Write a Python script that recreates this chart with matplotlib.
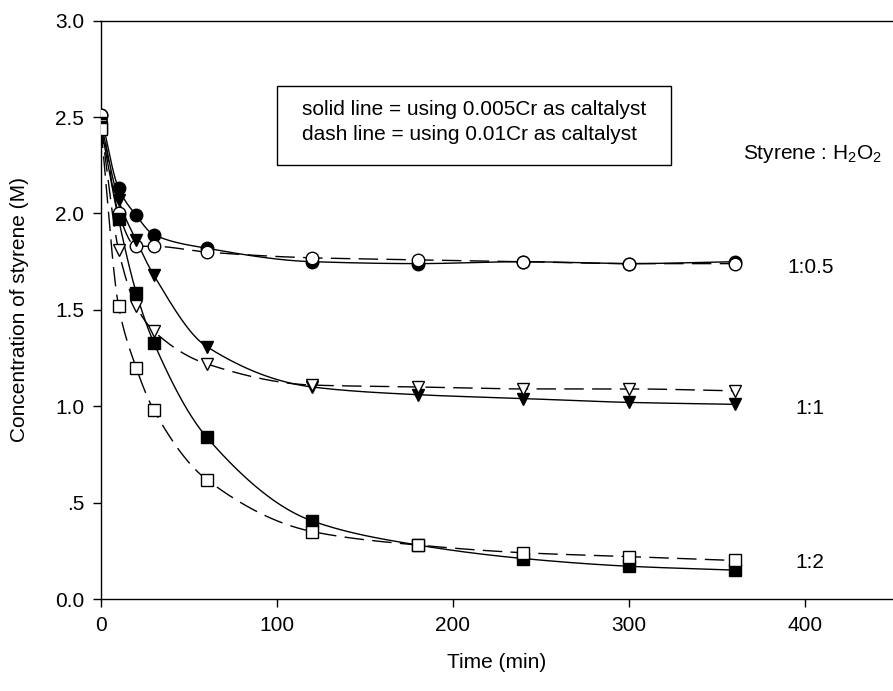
import numpy as np
import matplotlib
matplotlib.use("Agg")
import matplotlib.pyplot as plt
from matplotlib.patches import Rectangle

plt.rcParams['font.family'] = ['Liberation Sans', 'DejaVu Sans']
plt.rcParams['mathtext.fontset'] = 'custom'
plt.rcParams['mathtext.rm'] = 'Liberation Sans'

# sampling times (min)
time = [0, 10, 20, 30, 60, 120, 180, 240, 300, 360]

# styrene : H2O2 = 1:0.5
c_05_solid = [2.51, 2.13, 1.99, 1.89, 1.82, 1.75, 1.74, 1.75, 1.74, 1.75]
c_05_dash = [2.51, 2.00, 1.83, 1.83, 1.80, 1.77, 1.76, 1.75, 1.74, 1.74]
# styrene : H2O2 = 1:1
c_1_solid = [2.47, 2.07, 1.86, 1.68, 1.31, 1.10, 1.06, 1.04, 1.02, 1.01]
c_1_dash = [2.46, 1.81, 1.52, 1.39, 1.22, 1.11, 1.10, 1.09, 1.09, 1.08]
# styrene : H2O2 = 1:2
c_2_solid = [2.45, 1.97, 1.59, 1.33, 0.84, 0.405, 0.28, 0.21, 0.17, 0.15]
c_2_dash = [2.44, 1.52, 1.20, 0.98, 0.62, 0.35, 0.28, 0.24, 0.22, 0.20]

ratio_labels = ['1:0.5', '1:1', '1:2']
ratio_label_y = [1.72, 0.99, 0.19]


def smooth(x, y, n=400):
    # monotone cubic (pchip) curve through the points, only for drawing the line
    x = np.asarray(x, float)
    y = np.asarray(y, float)
    h = np.diff(x)
    d = np.diff(y) / h
    m = np.zeros_like(y)
    for k in range(1, len(x) - 1):
        if d[k - 1] * d[k] > 0:
            w1 = 2 * h[k] + h[k - 1]
            w2 = h[k] + 2 * h[k - 1]
            m[k] = (w1 + w2) / (w1 / d[k - 1] + w2 / d[k])
    m[0] = d[0]
    m[-1] = d[-1]
    xs = np.linspace(x[0], x[-1], n)
    i = np.clip(np.searchsorted(x, xs) - 1, 0, len(h) - 1)
    t = (xs - x[i]) / h[i]
    h00 = 2 * t**3 - 3 * t**2 + 1
    h10 = t**3 - 2 * t**2 + t
    h01 = -2 * t**3 + 3 * t**2
    h11 = t**3 - t**2
    ys = h00 * y[i] + h10 * h[i] * m[i] + h01 * y[i + 1] + h11 * h[i] * m[i + 1]
    return xs, ys


fig = plt.figure(figsize=(8.93, 6.91), dpi=100)
ax = fig.add_axes([0.1131, 0.1331, 0.8869, 0.8369])

series = [
    (c_05_solid, 'o', 'black', '-'),
    (c_05_dash, 'o', 'white', '--'),
    (c_1_solid, 'v', 'black', '-'),
    (c_1_dash, 'v', 'white', '--'),
    (c_2_solid, 's', 'black', '-'),
    (c_2_dash, 's', 'white', '--'),
]

for vals, mk, fc, ls in series:
    xs, ys = smooth(time, vals)
    if ls == '-':
        ax.plot(xs, ys, color='black', lw=1.0, zorder=2)
    else:
        ax.plot(xs, ys, color='black', lw=1.0, dashes=(14, 6), zorder=2)
for vals, mk, fc, ls in series:
    ax.plot(time, vals, linestyle='none', marker=mk, markersize=9 if mk != 's' else 8.5,
            markerfacecolor=fc, markeredgecolor='black', markeredgewidth=1.0, zorder=3)

ax.set_xlim(0, 450)
ax.set_ylim(0, 3.0)
ax.set_xticks([0, 100, 200, 300, 400])
ax.set_yticks([0, 0.5, 1.0, 1.5, 2.0, 2.5, 3.0])
ax.set_yticklabels(['0.0', '.5', '1.0', '1.5', '2.0', '2.5', '3.0'])
ax.tick_params(direction='out', length=6, width=1, labelsize=15, pad=6)
ax.spines['right'].set_visible(False)
for s in ['left', 'bottom', 'top']:
    ax.spines[s].set_linewidth(1.0)

ax.set_xlabel('Time (min)', fontsize=15, labelpad=13)
ax.set_ylabel('Concentration of styrene (M)', fontsize=15, labelpad=19)

# note box
ax.add_patch(Rectangle((100, 2.25), 224, 0.41, fill=False, edgecolor='black', lw=1.0, zorder=4))
ax.text(114, 2.54, 'solid line = using 0.005Cr as caltalyst', fontsize=15, va='center', ha='left')
ax.text(114, 2.41, 'dash line = using 0.01Cr as caltalyst', fontsize=15, va='center', ha='left')

ax.text(444, 2.31, 'Styrene : H$_2$O$_2$', fontsize=15, va='center', ha='right')
for lab, yv in zip(ratio_labels, ratio_label_y):
    ax.text(403, yv, lab, fontsize=15, va='center', ha='center')

fig.savefig('out.png', dpi=100)
